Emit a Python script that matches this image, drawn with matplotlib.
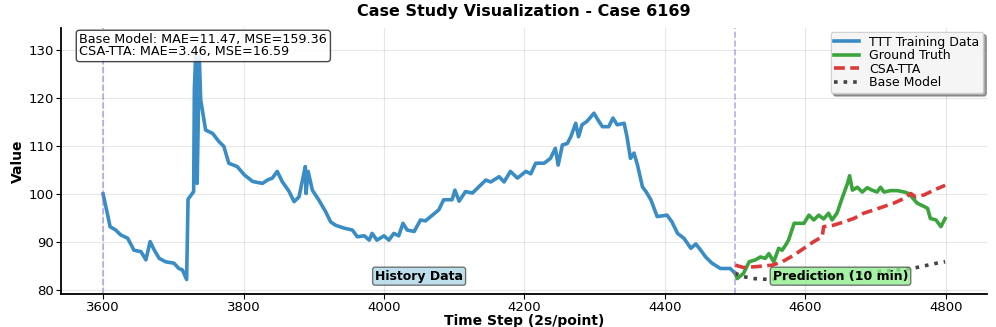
import matplotlib
matplotlib.use('Agg')
import matplotlib.pyplot as plt

# history (TTT training data)
hist_t = [3600, 3606, 3610, 3618, 3625, 3635, 3639, 3644, 3654, 3661,
          3667, 3673, 3680, 3689, 3701, 3708, 3713, 3719, 3721, 3729,
          3730, 3732, 3734, 3737, 3739, 3746, 3756, 3765, 3772, 3779,
          3791, 3801, 3813, 3827, 3834, 3841, 3848, 3855, 3865, 3872,
          3879, 3884, 3888, 3889, 3892, 3898, 3907, 3917, 3924, 3931,
          3943, 3955, 3962, 3972, 3979, 3983, 3990, 4000, 4007, 4014,
          4021, 4027, 4033, 4043, 4052, 4059, 4069, 4078, 4085, 4097,
          4101, 4107, 4116, 4126, 4133, 4145, 4152, 4164, 4171, 4180,
          4190, 4202, 4209, 4216, 4228, 4237, 4244, 4248, 4254, 4261,
          4266, 4273, 4277, 4282, 4289, 4299, 4306, 4311, 4320, 4326,
          4332, 4342, 4346, 4351, 4356, 4361, 4368, 4373, 4380, 4389,
          4403, 4410, 4418, 4427, 4437, 4444, 4451, 4458, 4467, 4479,
          4493, 4500]
hist_v = [100.0, 96.0, 93.2, 92.5, 91.5, 90.8, 89.7, 88.3, 88.0, 86.3,
          90.1, 88.3, 86.6, 85.9, 85.6, 84.5, 84.2, 82.2, 98.9, 100.5,
          121.7, 129.5, 102.2, 128.5, 119.6, 113.3, 112.6, 110.9, 109.9, 106.4,
          105.7, 104.0, 102.6, 102.2, 102.9, 103.3, 104.7, 102.6, 100.5, 98.4,
          99.4, 102.9, 105.7, 100.1, 104.7, 100.8, 98.8, 96.3, 94.2, 93.5,
          92.9, 92.5, 91.1, 91.3, 90.4, 91.8, 90.4, 91.3, 90.4, 91.8,
          91.3, 93.9, 92.5, 92.2, 94.6, 94.4, 95.6, 96.7, 98.8, 98.8,
          100.8, 98.5, 100.5, 100.2, 101.2, 102.9, 102.5, 103.6, 102.5, 104.7,
          103.3, 104.7, 104.2, 106.4, 106.4, 107.4, 109.5, 106.0, 110.2, 110.5,
          111.9, 114.7, 111.9, 114.4, 115.1, 116.8, 115.1, 114.0, 114.0, 115.8,
          114.4, 114.7, 111.9, 107.4, 108.5, 106.0, 101.5, 100.5, 98.8, 95.3,
          95.6, 94.2, 91.8, 90.8, 88.7, 89.6, 88.3, 86.9, 85.6, 84.5,
          84.5, 83.5]

# prediction window
gt_t = [4500, 4503, 4512, 4520, 4529, 4536, 4543, 4548, 4555, 4562,
        4567, 4572, 4576, 4584, 4598, 4605, 4612, 4619, 4626, 4633,
        4638, 4645, 4653, 4660, 4663, 4667, 4674, 4681, 4688, 4695,
        4702, 4707, 4712, 4721, 4731, 4741, 4747, 4755, 4759, 4769,
        4774, 4778, 4786, 4793, 4799]
gt_v = [83.5, 82.4, 83.5, 85.9, 86.3, 86.9, 86.6, 87.6, 85.9, 88.7,
        88.3, 89.4, 90.4, 93.9, 93.9, 95.6, 94.6, 95.6, 94.8, 96.0,
        94.6, 96.0, 99.4, 102.2, 103.8, 100.8, 101.4, 100.4, 101.3, 100.8,
        100.4, 101.4, 100.4, 100.7, 100.7, 100.4, 100.1, 98.8, 98.1, 97.4,
        97.0, 94.9, 94.6, 93.2, 94.9]

csa_t = [4500, 4512, 4531, 4553, 4567, 4584, 4598, 4612, 4624, 4626,
         4640, 4655, 4669, 4683, 4698, 4712, 4726, 4741, 4750, 4757,
         4769, 4783, 4799]
csa_v = [85.2, 84.7, 84.9, 85.2, 85.9, 87.3, 88.7, 90.1, 91.1, 93.2,
         93.5, 94.2, 94.9, 96.0, 96.7, 97.4, 98.1, 99.1, 100.1, 99.4,
         99.8, 100.8, 101.8]

base_t = [4500, 4512, 4527, 4550, 4600, 4650, 4700, 4752, 4790, 4799]
base_v = [83.5, 82.8, 82.4, 82.2, 82.6, 83.2, 83.8, 84.5, 85.7, 85.9]

case_id = 6169
base_mae, base_mse = 11.47, 159.36
csa_mae, csa_mse = 3.46, 16.59

fig = plt.figure(figsize=(9.96, 3.27), dpi=100)
ax = fig.add_axes([0.0612, 0.101, 0.93, 0.813])

ax.plot(hist_t, hist_v, color='#2E86C1', lw=2.6, alpha=0.95, label='TTT Training Data')
ax.plot(gt_t, gt_v, color='#3CA43C', lw=2.6, label='Ground Truth')
ax.plot(csa_t, csa_v, color='#DC3A3A', lw=2.6, ls=(0, (3, 1.5)), label='CSA-TTA')
ax.plot(base_t, base_v, color='#444444', lw=2.6, ls=':', label='Base Model')

ax.axvline(hist_t[0], color='mediumpurple', ls='--', lw=1.2, alpha=0.6)
ax.axvline(hist_t[-1], color='mediumpurple', ls='--', lw=1.2, alpha=0.6)

ax.set_ylim(79.2, 134.5)
ax.set_xticks([3600, 3800, 4000, 4200, 4400, 4600, 4800])
ax.set_yticks([80, 90, 100, 110, 120, 130])
ax.tick_params(labelsize=9.5, length=3.5, pad=1.5)

ax.text((hist_t[0] + hist_t[-1]) / 2, 82.9, 'History Data', ha='center', va='center',
        fontsize=9, fontweight='bold',
        bbox=dict(boxstyle='round,pad=0.2', facecolor='lightblue', edgecolor='#555555', alpha=0.8))
ax.text((gt_t[0] + 4800) / 2, 82.9, 'Prediction (10 min)', ha='center', va='center',
        fontsize=9, fontweight='bold',
        bbox=dict(boxstyle='round,pad=0.2', facecolor='lightgreen', edgecolor='#555555', alpha=0.8))

metrics = f'Base Model: MAE={base_mae:.2f}, MSE={base_mse:.2f}\nCSA-TTA: MAE={csa_mae:.2f}, MSE={csa_mse:.2f}'
ax.text(0.02, 0.98, metrics, transform=ax.transAxes, ha='left', va='top', fontsize=9.2,
        linespacing=0.9,
        bbox=dict(boxstyle='round,pad=0.25', facecolor='white', edgecolor='#333333', alpha=0.9))

ax.set_title(f'Case Study Visualization - Case {case_id}', fontsize=11.5, fontweight='bold', pad=9)
ax.set_xlabel('Time Step (2s/point)', fontsize=10, fontweight='bold', labelpad=0)
ax.set_ylabel('Value', fontsize=10, fontweight='bold', labelpad=3)

ax.legend(loc='upper right', fontsize=9, shadow=True, fancybox=True, framealpha=0.9,
          handlelength=2.0, labelspacing=0.05, borderpad=0.3, borderaxespad=0.3)
ax.grid(True, alpha=0.3)
ax.spines['top'].set_visible(False)
ax.spines['right'].set_visible(False)
ax.spines['left'].set_linewidth(1.3)
ax.spines['bottom'].set_linewidth(1.3)

fig.savefig('out.png', dpi=100)
